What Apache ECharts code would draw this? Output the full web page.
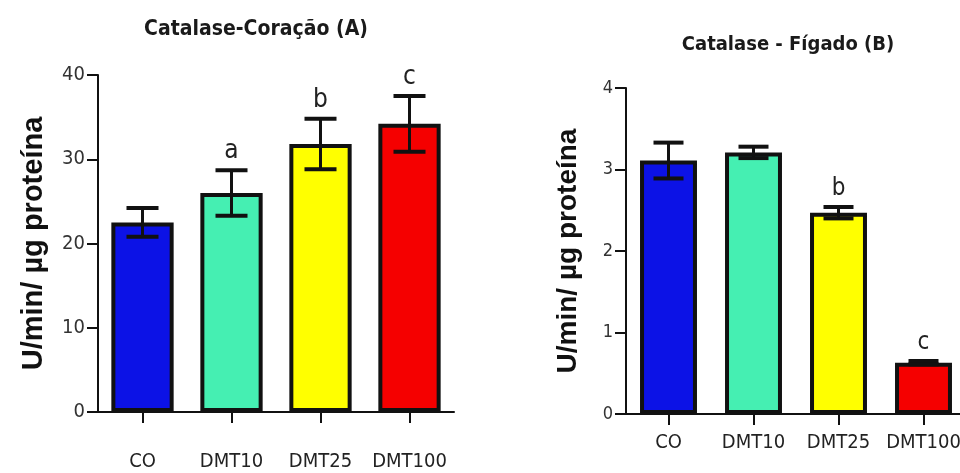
<!DOCTYPE html>
<html>
<head>
<meta charset="utf-8">
<script src="https://cdn.jsdelivr.net/npm/echarts@6/dist/echarts.min.js"></script>
<style>
  html, body { margin: 0; padding: 0; background: #fff; }
  #chart { width: 960px; height: 473px; }
</style>
</head>
<body>
<div id="chart"></div>
<script>
// dados
const categorias = ['CO', 'DMT10', 'DMT25', 'DMT100'];
const coracaoMedia = [22.5, 26.0, 31.8, 34.2];
const coracaoErro = [1.7, 2.7, 3.0, 3.3];
const coracaoLetras = ['', 'a', 'b', 'c'];
const figadoMedia = [3.11, 3.21, 2.47, 0.63];
const figadoErro = [0.22, 0.07, 0.07, 0.02];
const figadoLetras = ['', '', 'b', 'c'];
const coracaoTicks = [0, 10, 20, 30, 40];
const figadoTicks = [0, 1, 2, 3, 4];
const cores = ['#0c12e6', '#45efb2', '#ffff00', '#f50000'];

const fonteNarrow = "'Liberation Sans Narrow', 'DejaVu Sans Condensed', 'Arial Narrow', sans-serif";
const corTexto = '#222';

// barras de erro + letras de significância
function desenhaErro(letras, larguraCap, tamFonte) {
  return function (params, api) {
    const x = api.value(0);
    const topo = api.coord([x, api.value(2)]);
    const base = api.coord([x, api.value(1)]);
    const h = larguraCap / 2;
    const estilo = { stroke: '#111', lineWidth: 4 };
    const filhos = [
      { type: 'line', shape: { x1: topo[0], y1: topo[1], x2: base[0], y2: base[1] }, style: { stroke: '#111', lineWidth: 3 } },
      { type: 'line', shape: { x1: topo[0] - h, y1: topo[1], x2: topo[0] + h, y2: topo[1] }, style: estilo },
      { type: 'line', shape: { x1: base[0] - h, y1: base[1], x2: base[0] + h, y2: base[1] }, style: estilo }
    ];
    const letra = letras[params.dataIndex];
    if (letra) {
      filhos.push({
        type: 'text',
        style: {
          text: letra, x: topo[0], y: topo[1] - 6,
          align: 'center', verticalAlign: 'bottom',
          fontSize: tamFonte, fontFamily: fonteNarrow, fill: corTexto
        }
      });
    }
    return { type: 'group', children: filhos };
  };
}

function barras(medias) {
  return medias.map((v, i) => ({ value: v, itemStyle: { color: cores[i] } }));
}

function erros(medias, erro) {
  return medias.map((m, i) => [i, m - erro[i], m + erro[i]]);
}

const grafico = echarts.init(document.getElementById('chart'));

const eixoX = (grid, margem) => ({
  type: 'category',
  gridIndex: grid,
  data: categorias,
  axisLine: { lineStyle: { color: '#111', width: 2 } },
  axisTick: { show: true, alignWithLabel: true, length: 11, lineStyle: { color: '#111', width: 2 } },
  axisLabel: { color: corTexto, fontSize: 20, fontFamily: fonteNarrow, margin: margem, interval: 0 },
  splitLine: { show: false }
});

const eixoY = (grid, ticks, tamFonte, gap) => ({
  type: 'value',
  gridIndex: grid,
  min: ticks[0],
  max: ticks[ticks.length - 1],
  interval: ticks[1] - ticks[0],
  name: 'U/min/ µg proteína',
  nameLocation: 'middle',
  nameRotate: 90,
  nameGap: gap,
  nameTextStyle: { fontSize: grid === 0 ? 29 : 28, fontWeight: 'bold', color: '#111', fontFamily: "'Liberation Sans', Arial, sans-serif" },
  axisLine: { show: true, lineStyle: { color: '#111', width: 2 } },
  axisTick: { show: true, length: 11, lineStyle: { color: '#111', width: 2 } },
  axisLabel: { color: '#333', fontSize: tamFonte, fontFamily: fonteNarrow, margin: 13 },
  splitLine: { show: false }
});

const opcoes = {
  animation: false,
  backgroundColor: '#fff',
  title: [
    {
      text: 'Catalase-Coração (A)',
      left: 251, top: 14, textAlign: 'center',
      textStyle: { fontSize: 21, fontWeight: 'bold', color: '#1a1a1a', fontFamily: fonteNarrow }
    },
    {
      text: 'Catalase - Fígado (B)',
      left: 783, top: 30, textAlign: 'center',
      textStyle: { fontSize: 20, fontWeight: 'bold', color: '#1a1a1a', fontFamily: fonteNarrow }
    }
  ],
  grid: [
    { left: 98, right: 506, top: 75, bottom: 61, outerBoundsMode: 'none' },
    { left: 626, right: -6, top: 88, bottom: 59, outerBoundsMode: 'none' }
  ],
  xAxis: [eixoX(0, 40), eixoX(1, 19)],
  yAxis: [eixoY(0, coracaoTicks, 20, 50), eixoY(1, figadoTicks, 18, 44)],
  series: [
    {
      type: 'bar', xAxisIndex: 0, yAxisIndex: 0, barWidth: '70%',
      itemStyle: { borderColor: '#111', borderWidth: 4 },
      data: barras(coracaoMedia)
    },
    {
      type: 'custom', xAxisIndex: 0, yAxisIndex: 0, z: 5,
      renderItem: desenhaErro(coracaoLetras, 32, 26),
      data: erros(coracaoMedia, coracaoErro)
    },
    {
      type: 'bar', xAxisIndex: 1, yAxisIndex: 1, barWidth: '67%',
      itemStyle: { borderColor: '#111', borderWidth: 4 },
      data: barras(figadoMedia)
    },
    {
      type: 'custom', xAxisIndex: 1, yAxisIndex: 1, z: 5,
      renderItem: desenhaErro(figadoLetras, 30, 24),
      data: erros(figadoMedia, figadoErro)
    }
  ]
};

grafico.setOption(opcoes);
window.addEventListener('resize', () => grafico.resize());
</script>
</body>
</html>
